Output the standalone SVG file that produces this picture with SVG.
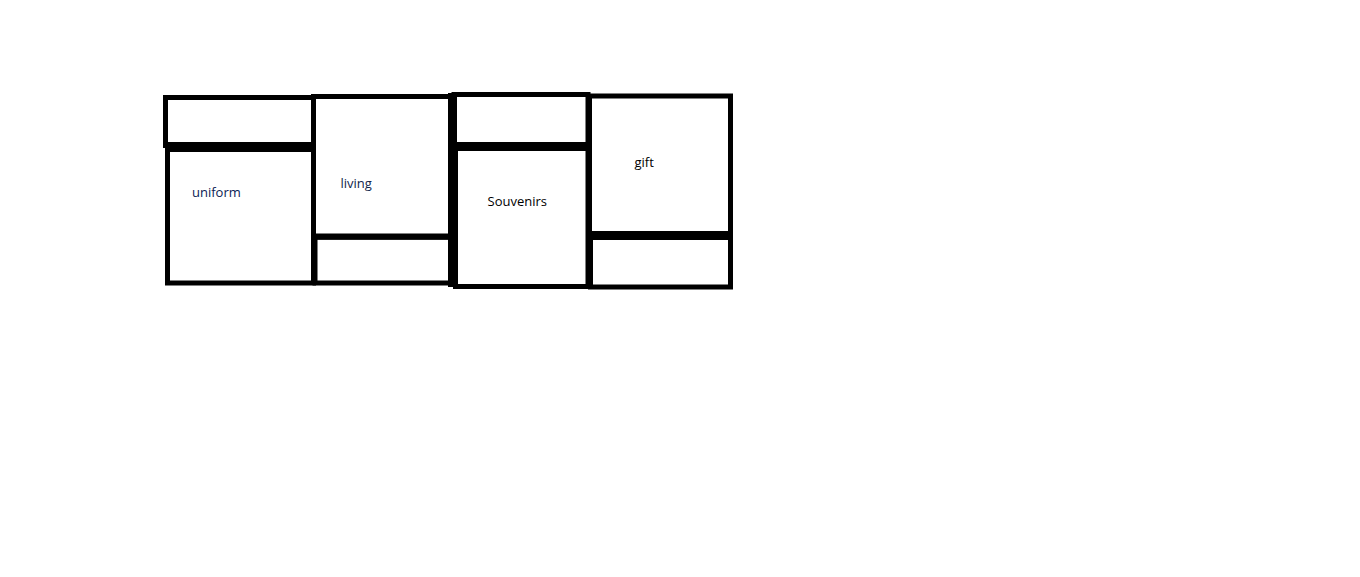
<svg xmlns="http://www.w3.org/2000/svg" width="1360" height="577" viewBox="0 0 1360 577">
<style>
.b{fill:none;stroke:#000;stroke-width:5}
.t{font-family:"Open Sans","Noto Sans",sans-serif;font-size:13px}
</style>
<rect width="1360" height="577" fill="#fff"/>
<g id="uniform">
<rect class="b" x="165.5" y="97.5" width="148" height="48"/>
<rect class="b" x="167.5" y="149" width="146" height="134"/>
<rect x="165" y="142" width="150" height="10" fill="#000"/>
<text class="t" x="192" y="197" fill="#0a2255">uniform</text>
</g>
<g id="living">
<rect class="b" x="313.5" y="96.5" width="139" height="140.5"/>
<rect class="b" x="315" y="237" width="137.5" height="46"/>
<rect x="312" y="233.5" width="142" height="6" fill="#000"/>
<text class="t" x="340.5" y="188" fill="#10244a">living</text>
</g>
<g id="souvenirs">
<rect x="448" y="93" width="9" height="194" fill="#000"/>
<rect class="b" x="454" y="94.5" width="134" height="50"/>
<rect class="b" x="455.5" y="148" width="132.5" height="138.5"/>
<rect x="452" y="142" width="138" height="9" fill="#000"/>
<text class="t" x="487.5" y="206" fill="#000">Souvenirs</text>
</g>
<g id="gift">
<rect class="b" x="589.5" y="96" width="141" height="139"/>
<rect class="b" x="590.5" y="235" width="140" height="52"/>
<rect x="588" y="231" width="145" height="9" fill="#000"/>
<text class="t" x="634.5" y="167" fill="#000">gift</text>
</g>
<g id="connectors"/>
</svg>
